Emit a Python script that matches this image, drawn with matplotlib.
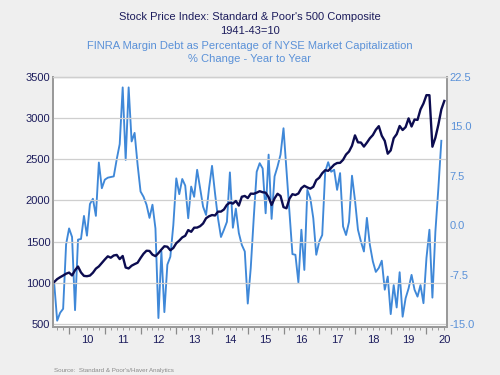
import numpy as np
import pandas as pd
import matplotlib
matplotlib.use("Agg")
import matplotlib.pyplot as plt
from matplotlib.ticker import MultipleLocator, FixedLocator, NullFormatter

plt.rcParams['font.family'] = ['Liberation Sans', 'DejaVu Sans']

# Monthly data, Aug 2009 - Jul 2020
months = pd.date_range("2009-08-01", "2020-07-01", freq="MS")

sp500 = [
    1009.7, 1044.6, 1067.7, 1088.1, 1110.4,
    1123.6, 1089.2, 1152.1, 1197.3, 1125.1, 1083.4, 1079.8, 1087.3, 1122.1, 1171.6, 1198.9, 1241.5,
    1282.6, 1321.1, 1304.5, 1331.5, 1338.3, 1287.3, 1325.2, 1185.3, 1173.9, 1207.2, 1226.4, 1243.3,
    1300.6, 1352.5, 1389.2, 1386.4, 1341.3, 1323.5, 1359.8, 1403.4, 1443.4, 1437.8, 1394.5, 1422.3,
    1480.4, 1512.3, 1550.8, 1570.7, 1639.8, 1618.8, 1668.7, 1670.1, 1687.2, 1720.0, 1783.5, 1807.8,
    1822.4, 1817.0, 1863.5, 1864.3, 1889.8, 1947.1, 1973.1, 1961.5, 1993.2, 1937.3, 2044.6, 2054.3,
    2028.2, 2082.2, 2080.4, 2094.1, 2111.9, 2099.3, 2094.1, 2039.9, 1944.4, 2024.8, 2080.6, 2054.1,
    1918.6, 1904.4, 2021.9, 2075.5, 2065.6, 2083.9, 2148.9, 2177.5, 2157.7, 2143.0, 2165.0, 2246.6,
    2275.1, 2329.9, 2366.8, 2359.3, 2395.3, 2434.0, 2454.1, 2456.2, 2492.8, 2557.0, 2593.6, 2664.3,
    2789.8, 2705.2, 2702.8, 2653.6, 2701.5, 2754.4, 2793.6, 2857.8, 2901.5, 2785.5, 2723.2, 2567.3,
    2607.4, 2754.9, 2804.0, 2903.8, 2854.7, 2890.2, 2996.1, 2897.5, 2982.2, 2977.7, 3104.9, 3176.7,
    3278.2, 3277.3, 2652.4, 2762.0, 2919.6, 3104.7, 3207.6,
]

margin_yoy = [
    -8.8, -14.5, -13.3, -12.7, -2.9, -0.5, -1.8, -12.9, -2.2, -2.1,
    1.4, -1.6, 3.2, 4.0, 1.4, 9.5, 5.6, 6.9, 7.2, 7.3,
    7.4, 10.0, 12.3, 20.9, 9.9, 20.9, 12.7, 14.0, 9.2, 5.1,
    4.3, 3.1, 1.1, 3.1, -0.5, -14.1, -4.0, -13.2, -6.0, -4.8,
    0.0, 7.1, 4.7, 7.0, 6.0, 1.05, 5.85, 4.3, 8.4, 5.6,
    2.8, 1.55, 5.6, 9.0, 4.85, 1.05, -1.8, -0.7, 0.5, 8.0,
    -0.4, 2.5, -1.2, -3.0, -4.0, -11.9, -6.5, 1.05, 8.1, 9.4,
    8.6, 1.8, 10.7, 0.95, 7.4, 8.9, 10.7, 14.7, 8.4, 2.3,
    -4.4, -4.5, -8.7, -0.7, -6.8, 5.35, 4.1, 1.05, -4.5, -2.5,
    -1.5, 8.1, 9.55, 8.1, 8.4, 5.35, 7.9, -0.2, -1.5, 0.5,
    7.5, 3.8, -0.7, -2.5, -4.0, 1.1, -3.0, -5.5, -7.1, -6.5,
    -5.4, -9.8, -7.8, -13.5, -9.1, -12.5, -7.15, -13.9, -11.1, -9.6,
    -7.55, -9.8, -10.85, -9.1, -11.85, -5.0, -0.7, -11.0, -1.0, 5.6,
    12.8, np.nan,
]

left_ticks = [500, 1000, 1500, 2000, 2500, 3000, 3500]
right_ticks = [-15.0, -7.5, 0.0, 7.5, 15.0, 22.5]
year_labels = ["10", "11", "12", "13", "14", "15", "16", "17", "18", "19", "20"]
years = list(range(2010, 2021))

x = months.year + (months.month - 1) / 12.0

NAVY = "#0c0c50"
BLUE = "#3f88d8"
NAVY_TXT = "#1c1c5c"
BLUE_TXT = "#5a91d8"

fig = plt.figure(figsize=(5, 3.75), dpi=100, facecolor="#efefef")
ax = fig.add_axes([0.106, 0.128, 0.788, 0.667])
ax2 = ax.twinx()

ax.set_zorder(ax2.get_zorder() + 1)
ax.patch.set_visible(False)
ax2.patch.set_visible(True)
ax2.patch.set_facecolor("white")

ax2.plot(x, margin_yoy, color=BLUE, lw=1.35, solid_joinstyle="round")
ax.plot(x, sp500, color=NAVY, lw=1.7, solid_joinstyle="round")

ax.set_xlim(x[0] - 0.4 / 12, x[-1] + 0.9 / 12)
ax.set_ylim(463, 3500)
ax2.set_ylim(-15.46, 22.5)

ax.set_yticks(left_ticks)
ax.set_yticklabels([str(v) for v in left_ticks])
ax2.set_yticks(right_ticks)
ax2.set_yticklabels([f"{v:.1f}" for v in right_ticks])

ax.grid(axis="y", color="#cfcfcf", lw=0.9)
ax.grid(axis="x", visible=False)

for a in (ax, ax2):
    for side in ("left", "right", "bottom"):
        a.spines[side].set_color("#9a9a9a")
        a.spines[side].set_linewidth(1.3)
    a.spines["top"].set_color("#cfcfcf")
    a.spines["top"].set_linewidth(0.9)

ax.tick_params(axis="y", length=0, pad=2, labelsize=8, labelcolor=NAVY_TXT)
ax2.tick_params(axis="y", length=0, pad=2, labelsize=8, labelcolor=BLUE_TXT)

# year-boundary major ticks and bimonthly minor ticks
ax.xaxis.set_major_locator(FixedLocator(years))
ax.xaxis.set_major_formatter(NullFormatter())
ax.xaxis.set_minor_locator(MultipleLocator(2 / 12))
ax.tick_params(axis="x", which="major", direction="out", length=5, width=0.9, color="#8a8a8a")
ax.tick_params(axis="x", which="minor", direction="out", length=2.5, width=0.7, color="#9a9a9a")

sec = ax.secondary_xaxis("bottom")
sec.set_xticks([y + 0.5 for y in years])
sec.set_xticklabels(year_labels)
sec.tick_params(axis="x", length=0, pad=6, labelsize=8, labelcolor=NAVY_TXT)
sec.spines["bottom"].set_visible(False)

fig.text(0.5, 0.955, "Stock Price Index: Standard & Poor's 500 Composite",
         ha="center", va="center", fontsize=8, color=NAVY_TXT)
fig.text(0.5, 0.917, "1941-43=10", ha="center", va="center", fontsize=8, color=NAVY_TXT)
fig.text(0.5, 0.877, "FINRA Margin Debt as Percentage of NYSE Market Capitalization",
         ha="center", va="center", fontsize=8, color=BLUE_TXT)
fig.text(0.5, 0.843, "% Change - Year to Year", ha="center", va="center", fontsize=8, color=BLUE_TXT)
fig.text(0.108, 0.011, "Source:  Standard & Poor's/Haver Analytics",
         ha="left", va="center", fontsize=4.5, color="#8a8a8a")

fig.savefig("out.png", dpi=100, facecolor=fig.get_facecolor())
